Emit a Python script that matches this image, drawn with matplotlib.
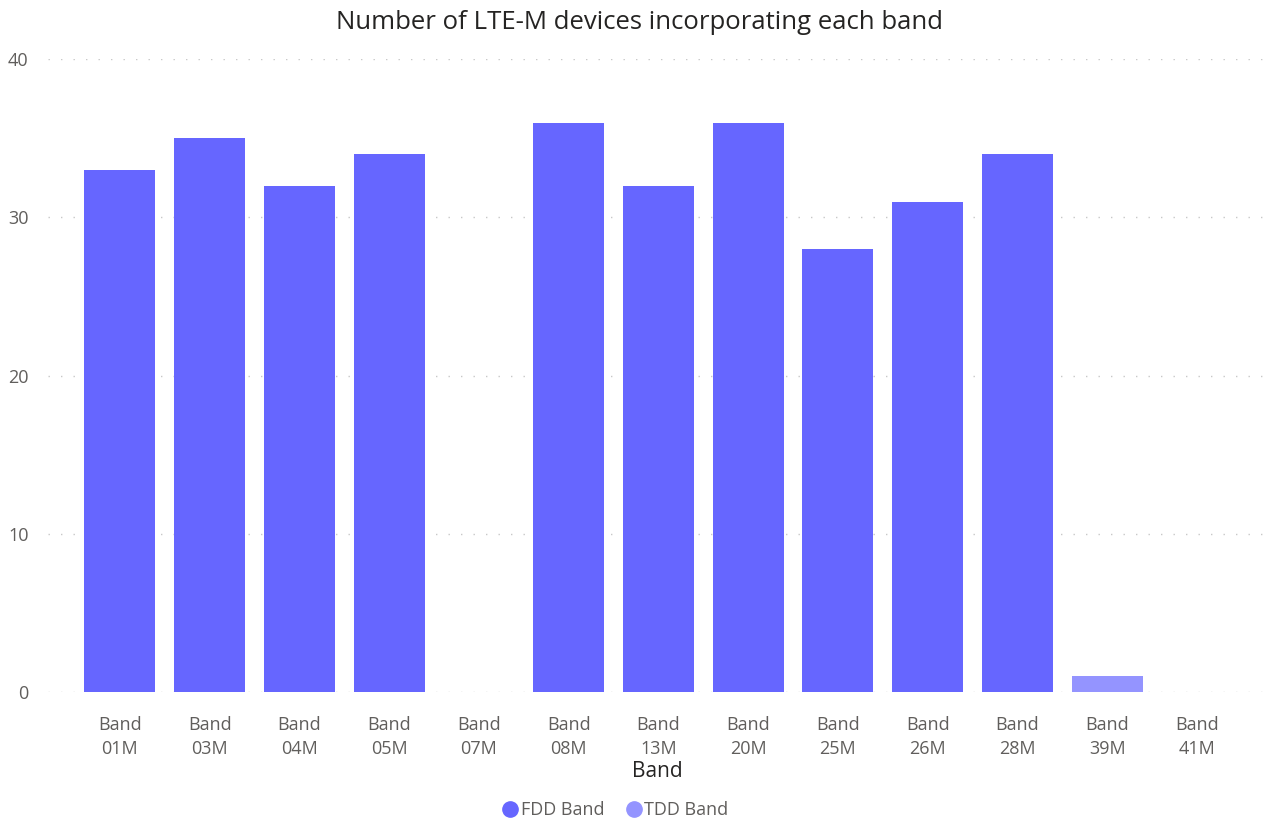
import matplotlib
matplotlib.use("Agg")
import matplotlib.pyplot as plt
from matplotlib.lines import Line2D

# band counts per device type
bands = ["Band\n01M", "Band\n03M", "Band\n04M", "Band\n05M", "Band\n07M", "Band\n08M", "Band\n13M",
         "Band\n20M", "Band\n25M", "Band\n26M", "Band\n28M", "Band\n39M", "Band\n41M"]
fdd = [33, 35, 32, 34, 0, 36, 32, 36, 28, 31, 34, 0, 0]
tdd = [0, 0, 0, 0, 0, 0, 0, 0, 0, 0, 0, 1, 0]

fdd_color = "#6666FF"
tdd_color = "#9494FF"

plt.rcParams["font.family"] = ["Open Sans", "DejaVu Sans"]

fig = plt.figure(figsize=(12.66, 8.23), dpi=100)
ax = fig.add_axes([0.038, 0.159, 0.962, 0.769])

x = list(range(len(bands)))
ax.bar(x, fdd, width=0.79, color=fdd_color, zorder=3)
ax.bar(x, tdd, bottom=fdd, width=0.79, color=tdd_color, zorder=3)

ax.set_xlim(-0.80, 12.77)
ax.set_ylim(0, 40)
ax.set_yticks([0, 10, 20, 30, 40])
ax.set_xticks(x)
ax.set_xticklabels(bands, fontsize=13, color="#605E5C", linespacing=1.45)
ax.tick_params(axis="y", labelsize=13, labelcolor="#605E5C", length=0, pad=14)
ax.tick_params(axis="x", length=0, pad=17)
ax.yaxis.grid(True, linestyle=(0, (1, 8)), color="#C8C8C8", linewidth=1, zorder=0)
ax.set_axisbelow(True)
for s in ax.spines.values():
    s.set_visible(False)

ax.set_xlabel("Band", fontsize=15, color="#252423", labelpad=2)
fig.suptitle("Number of LTE-M devices incorporating each band", fontsize=18.5,
             color="#252423", x=0.505, y=0.988)

handles = [Line2D([], [], marker="o", linestyle="", markersize=11, color=fdd_color),
           Line2D([], [], marker="o", linestyle="", markersize=11, color=tdd_color)]
fig.legend(handles, ["FDD Band", "TDD Band"], loc="center", bbox_to_anchor=(0.485, 0.016),
           ncol=2, frameon=False, fontsize=13, labelcolor="#605E5C",
           handletextpad=0.0, columnspacing=1.0, handlelength=1.2)

fig.savefig("out.png", dpi=100)
